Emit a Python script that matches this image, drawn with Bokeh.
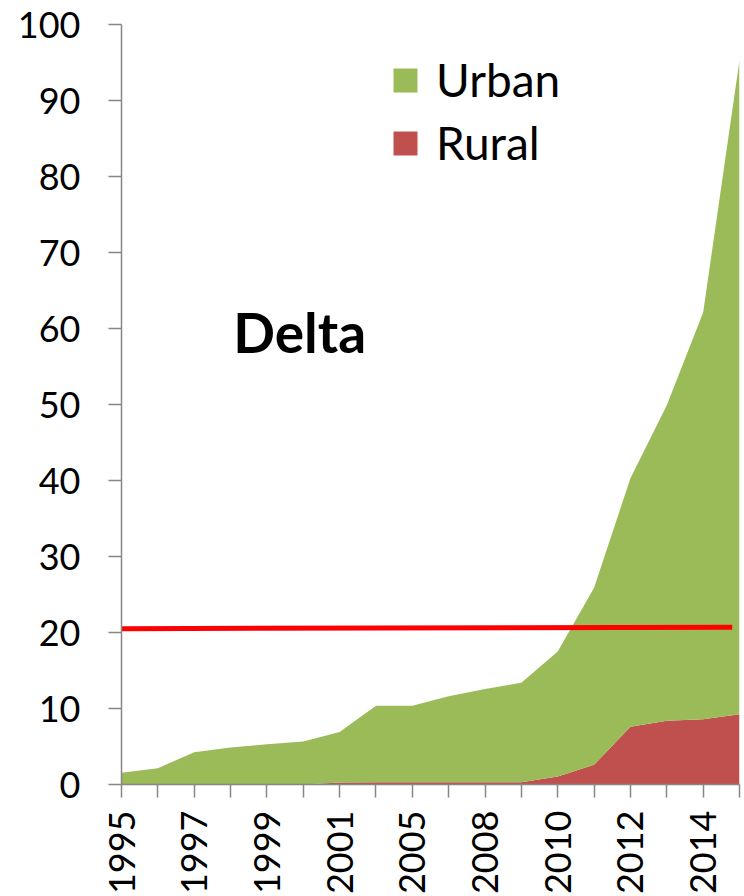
import numpy as np
from bokeh.plotting import figure
from bokeh.models import ColumnDataSource, FixedTicker, Legend, LegendItem, Label
from bokeh.embed import file_html
from bokeh.resources import INLINE

years = ["1995", "1996", "1997", "1998", "1999", "2000", "2001", "2003", "2005",
         "2007", "2008", "2009", "2010", "2011", "2012", "2013", "2014", "2015"]
shown_years = ["1995", "1997", "1999", "2001", "2005", "2008", "2010", "2012", "2014"]
total = [1.55, 2.15, 4.25, 4.87, 5.3, 5.65, 6.9, 10.35, 10.35, 11.6, 12.55, 13.4,
         17.5, 25.9, 40.3, 49.9, 62.1, 95.3]
rural = [0, 0, 0, 0, 0, 0, 0.26, 0.3, 0.3, 0.3, 0.3, 0.3, 1.05, 2.6, 7.6, 8.4, 8.6, 9.25]
urban = [round(t - r, 2) for t, r in zip(total, rural)]
ref_x = [-0.15, 16.8]
ref_y = [20.5, 20.7]

GREEN = "#9BBB59"
RED = "#C0504D"
FONT = "Lato"

x = list(range(len(years)))
source = ColumnDataSource(dict(x=x, rural=rural, urban=urban))

p = figure(frame_width=618, frame_height=760, output_backend="svg", toolbar_location=None,
           x_range=(0, len(years) - 1), y_range=(0, 100),
           min_border_left=121, min_border_right=5, min_border_top=24, min_border_bottom=100)
p.outline_line_color = None
p.grid.visible = False

rs = p.varea_stack(["rural", "urban"], x="x", source=source, color=[RED, GREEN])
p.line(ref_x, ref_y, line_color="#FF0000", line_width=5)

# axes
p.xaxis.ticker = FixedTicker(ticks=x)
p.xaxis.major_label_overrides = {i: (y if y in shown_years and i % 2 == 0 else "") for i, y in enumerate(years)}
p.xaxis.major_label_orientation = np.pi / 2
p.yaxis.ticker = FixedTicker(ticks=list(range(0, 101, 10)))
for ax in (p.xaxis, p.yaxis):
    ax.axis_line_color = "#868686"
    ax.axis_line_width = 1.5
    ax.major_tick_line_color = "#868686"
    ax.major_tick_line_width = 1.5
    ax.major_tick_out = 13
    ax.major_tick_in = 0
    ax.minor_tick_line_color = None
    ax.major_label_text_font = FONT
    ax.major_label_text_font_size = "36px"
    ax.major_label_text_color = "black"
p.yaxis.major_label_standoff = 28
p.xaxis.major_label_standoff = 13

legend = Legend(items=[LegendItem(label="Urban", renderers=[rs[1]]),
                       LegendItem(label="Rural", renderers=[rs[0]])],
                location=(269, 614), border_line_color=None, background_fill_alpha=0,
                glyph_width=30, glyph_height=30, padding=0, margin=0, spacing=8,
                label_text_font=FONT, label_text_font_size="46px", label_standoff=16,
                label_text_color="black")
p.add_layout(legend)

p.add_layout(Label(x=4.9, y=59.6, text="Delta", text_font=FONT, text_font_size="55px",
                   text_font_style="bold", text_align="center", text_baseline="alphabetic",
                   text_color="black"))

open("out.html", "w").write(file_html(p, INLINE))
